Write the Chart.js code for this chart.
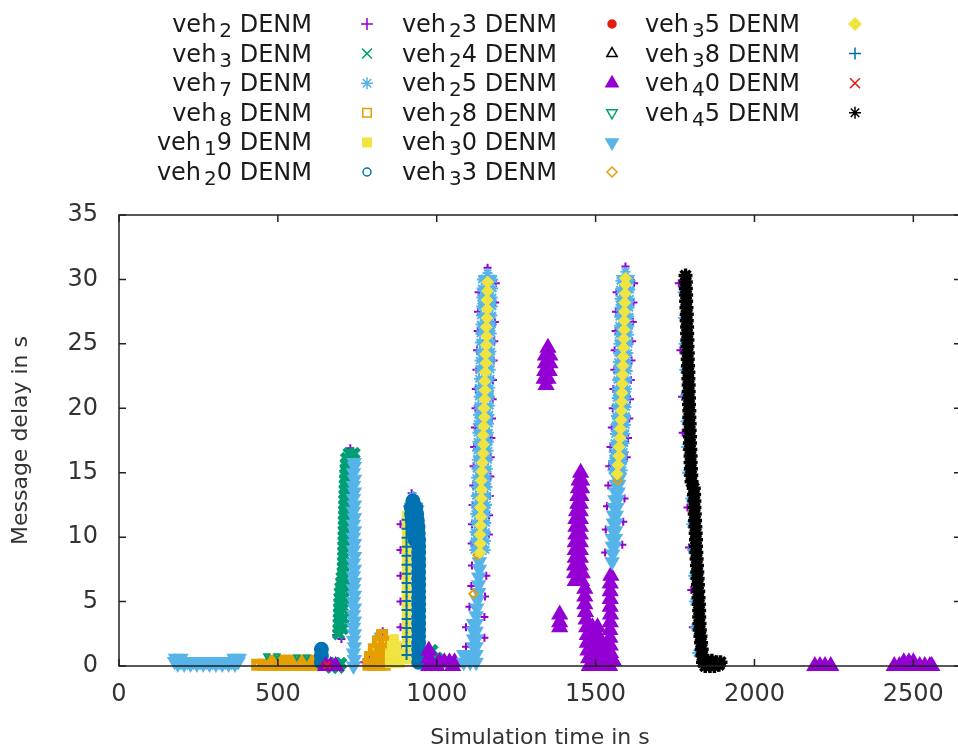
<!DOCTYPE html>
<html>
<head>
<meta charset="utf-8">
<title>DENM message delay</title>
<script src="https://cdn.jsdelivr.net/npm/chart.js@4.4.1/dist/chart.umd.min.js"></script>
<style>
  html, body { margin: 0; padding: 0; background: #fff; overflow: hidden; }
  canvas { display: block; }
</style>
</head>
<body>
<canvas id="delay" width="961" height="751"></canvas>
<script>
// [simulation time (s), message delay (s)] samples for every vehicle
const veh2 = [
  [1092,1.5],[1150,2.2],[1092,3.0],[1150,3.8],[1103,4.6],[1152,5.4],[1109,6.2],[1156,7.0],[1111,7.8],
  [1110,9.5],[1164,10.2],[1111,11.0],[1165,11.7],[1113,12.5],[1167,13.2],[1115,14.0],[1169,14.7],
  [1116,15.5],[1170,16.2],[1118,17.0],[1172,17.7],[1120,18.5],[1174,19.2],[1122,20.0],[1176,20.7],
  [1123,21.5],[1177,22.2],[1125,23.0],[1179,23.7],[1127,24.5],[1181,25.2],[1129,26.0],[1183,26.7],
  [1130,27.5],[1184,28.2],[1132,29.0],[1186,29.7],[1160,30.9],
  [1530,8.8],[1584,9.4],[1532,10.6],[1587,11.2],[1536,12.4],[1591,13.0],[1540,14.0],
  [1543,15.5],[1598,16.2],[1547,17.0],[1602,17.7],[1551,18.5],[1606,19.2],[1554,20.0],[1608,20.7],
  [1556,21.5],[1611,22.2],[1559,23.0],[1613,23.7],[1560,24.5],[1615,25.2],[1563,26.0],[1617,26.7],
  [1564,27.5],[1619,28.2],[1566,29.0],[1621,29.7],[1594,31.0],
  [1762,29.7],[1767,24.5],[1772,20.9],[1774,18.1],[1789,12.3],[1794,9.2],[1801,5.9],[1806,3.0],
  [684,2.4],[700,2.1],[728,16.9],[921,13.4],[886,11],[886,9],[886,7],[886,5],[886,3],[886,1.5],
  [789,0.6],[830,2.7],[770,0.3]
];
const veh3 = [
  [724,16.5],[740,16.5],[716,16.1],[715,15.7],[714,15.3],[713,14.9],[712,14.5],[712,14.1],[711,13.7],
  [711,13.3],[710,12.9],[710,12.5],[710,12.1],[709,11.7],[709,11.3],[709,10.9],[708,10.5],[708,10.1],
  [708,9.7],[707,9.3],[707,8.9],[707,8.5],[706,8.1],[706,7.7],[705,7.3],[702,6.9],[700,6.5],[698,6.1],
  [696,5.7],[695,5.3],[694,4.9],[694,4.5],[693,4.1],[693,3.7],[692,3.3],[692,2.9],[691,2.5],
  [710,6.9],[709,6.1],[708,5.3],[707,4.5],[706,3.7],[704,2.9],
  [662,0.2],[680,0.2],[698,0.2],[670,-0.1],[690,-0.1],
  [985,1.2],[980,0.6],[1000,0.6],[995,0.1]
];
const veh7 = [
  [1118,9.0],[1154,9.0],[1119,9.7],[1155,9.7],[1119,10.4],[1155,10.4],[1120,11.1],[1156,11.1],
  [1121,11.8],[1157,11.8],[1122,12.5],[1158,12.5],[1123,13.2],[1159,13.2],[1124,13.9],[1160,13.9],
  [1124,14.6],[1160,14.6],[1125,15.3],[1161,15.3],[1126,16.0],[1162,16.0],[1127,16.7],[1163,16.7],
  [1128,17.4],[1164,17.4],[1128,18.1],[1164,18.1],[1129,18.8],[1165,18.8],[1130,19.5],[1166,19.5],
  [1131,20.2],[1167,20.2],[1132,20.9],[1168,20.9],[1132,21.6],[1168,21.6],[1133,22.3],[1169,22.3],
  [1134,23.0],[1170,23.0],[1135,23.7],[1171,23.7],[1136,24.4],[1172,24.4],[1136,25.1],[1172,25.1],
  [1137,25.8],[1173,25.8],[1138,26.5],[1174,26.5],[1139,27.2],[1175,27.2],[1140,27.9],[1176,27.9],
  [1140,28.6],[1176,28.6],[1141,29.3],[1177,29.3],[1142,30.0],[1178,30.0],[1160,30.5],
  [1553,15.2],[1585,15.2],[1555,15.9],[1587,15.9],[1557,16.6],[1589,16.6],[1559,17.3],[1591,17.3],
  [1561,18.0],[1593,18.0],[1563,18.7],[1595,18.7],[1564,19.4],[1596,19.4],[1565,20.1],[1597,20.1],
  [1566,20.8],[1598,20.8],[1567,21.5],[1599,21.5],[1568,22.2],[1600,22.2],[1569,22.9],[1601,22.9],
  [1570,23.6],[1602,23.6],[1571,24.3],[1603,24.3],[1572,25.0],[1604,25.0],[1573,25.7],[1605,25.7],
  [1574,26.4],[1606,26.4],[1574,27.1],[1606,27.1],[1575,27.8],[1607,27.8],[1576,28.5],[1608,28.5],
  [1577,29.2],[1609,29.2],[1578,29.9],[1610,29.9],[1594,30.6],
  [925,13.2],[910,12.4],[945,12.4],[815,2.3],
  [1774,29],[1776,27],[1777,25],[1779,23],[1781,21],[1783,19],[1785,17],[1788,15],
  [1798,13],[1801,11],[1804,9],[1807,7],[1810,5],[1814,3],[1820,1]
];
const veh8 = [
  [435,0.1],[453,0.1],[471,0.1],[489,0.1],[507,0.1],[525,0.1],[543,0.1],[561,0.1],[579,0.1],[597,0.1],[612,0.1],
  [480,0.4],[498,0.4],[516,0.4],[534,0.4],[552,0.4],[570,0.4],[588,0.4],[606,0.4],
  [785,0.1],[800,0.1],[818,0.1],[836,0.1],[790,0.7],[808,0.7],[826,0.7],[844,0.7],
  [802,1.3],[820,1.3],[838,1.3],[815,1.9],[833,1.9],[828,2.4]
];
const veh19 = [
  [852,0.2],[870,0.2],[884,0.2],[852,0.9],[870,0.9],[882,0.9],[858,1.6],[874,1.6],[866,2.1],
  [905,0.5],[905,1.2],[905,1.9],[905,2.6],[905,3.3],[905,4.0],[905,4.7],[905,5.4],[905,6.1],
  [905,6.8],[905,7.5],[905,8.2],[905,8.9],[905,9.6],[905,10.3],[905,11.0],[905,11.7]
];
const veh20 = [
  [637,0.3],[637,0.8],[637,1.3],
  [925,12.8],[920,12.3],[934,12.3],[921,11.8],[937,11.8],[923,11.3],[939,11.3],[925,10.8],[941,10.8],
  [928,10.3],[942,10.3],[932,9.8],[943,9.8],[943,9.3],[943,8.8],[943,8.3],[943,7.8],[943,7.3],
  [943,6.8],[943,6.3],[943,5.8],[943,5.3],[943,4.8],[943,4.3],[943,3.8],[943,3.3],[943,2.8],
  [943,2.3],[943,1.8],[943,1.3],[943,0.8],[943,0.3]
];
const veh23 = [[645,0.0],[662,-0.1]];
const veh24 = [[1842,0.3],[1870,0.2]];
const veh25 = [
  [1350,24.7],[1342,24.1],[1356,24.1],[1342,23.5],[1356,23.5],[1340,22.9],[1354,22.9],
  [1338,22.3],[1350,22.3],[1344,21.8],
  [1387,4.0],[1387,3.4],[1387,3.0],
  [1453,15.0],[1448,14.4],[1456,14.4],[1446,13.8],[1456,13.8],[1444,13.2],[1454,13.2],
  [1444,12.6],[1452,12.6],[1440,12.0],[1452,12.0],[1438,11.4],[1452,11.4],[1438,10.8],[1452,10.8],
  [1438,10.2],[1452,10.2],[1436,9.6],[1452,9.6],[1436,9.0],[1452,9.0],[1436,8.4],[1452,8.4],
  [1434,7.8],[1452,7.8],[1434,7.2],[1450,7.2],[1458,7.2],[1436,6.6],[1456,6.6],
  [1466,6.0],[1466,5.4],[1466,4.8],[1468,4.2],[1470,3.6],
  [1472,3.0],[1490,3.0],[1506,3.0],[1474,2.4],[1490,2.4],[1506,2.4],
  [1474,1.8],[1490,1.8],[1506,1.8],[1520,1.8],[1476,1.2],[1492,1.2],[1508,1.2],[1524,1.2],
  [1478,0.6],[1494,0.6],[1510,0.6],[1526,0.6],[1542,0.6],
  [1480,0.0],[1496,0.0],[1512,0.0],[1528,0.0],[1544,0.0],
  [1548,7.0],[1546,6.4],[1546,5.8],[1546,5.2],[1546,4.6],[1547,4.0],[1546,3.4],[1545,2.8],
  [1545,2.2],[1546,1.6],[1547,1.0],[1556,0.4],
  [975,1.2],[975,0.6],[975,0.0],[1000,0.0],[1050,0.0],[1008,0.3],[1024,0.3],[1040,0.3],[1056,0.3],
  [650,0.0],[666,0.0],[682,0.0],
  [2190,0.0],[2206,0.0],[2222,0.0],[2240,0.0],
  [2440,0.0],[2456,0.0],[2472,0.0],[2488,0.0],[2504,0.0],[2520,0.0],[2536,0.0],[2552,0.0],[2558,0.0],
  [2470,0.3],[2486,0.3],[2500,0.3]
];
const veh28 = [[465,0.8],[497,0.8],[560,0.7],[591,0.7]];
const veh30 = [
  [175,0.35],[195,0.35],[215,0.35],[235,0.35],[255,0.35],[275,0.35],[295,0.35],[315,0.35],
  [335,0.35],[355,0.35],[375,0.35],
  [185,0.15],[205,0.15],[225,0.15],[245,0.15],[265,0.15],[285,0.15],[305,0.15],[325,0.15],
  [345,0.15],[365,0.15],
  [178,0.6],[195,0.6],[362,0.6],[378,0.6],
  [738,0.0],[741,0.5],[738,1.0],[741,1.5],[738,2.0],[741,2.5],[738,3.0],[741,3.5],[738,4.0],
  [741,4.5],[738,5.0],[741,5.5],[738,6.0],[741,6.5],[738,7.0],[741,7.5],[738,8.0],[741,8.5],
  [738,9.0],[741,9.5],[738,10.0],[741,10.5],[738,11.0],[741,11.5],[738,12.0],[741,12.5],
  [738,13.0],[741,13.5],[738,14.0],[741,14.5],[738,15.0],[741,15.5],[740,15.8],
  [1085,0.3],[1105,0.3],[1124,0.3],[1085,0.9],[1105,0.9],[1124,0.9],
  [1116,1.5],[1124,1.5],[1116,2.1],[1124,2.1],[1116,2.7],[1124,2.7],[1116,3.3],[1124,3.3],
  [1124,3.9],[1126,4.5],[1128,5.1],[1132,5.7],[1132,6.3],[1132,6.9],[1134,7.5],[1134,8.1],
  [1130,9.0],[1142,9.0],[1131,10.0],[1143,10.0],[1132,11.0],[1144,11.0],[1133,12.0],[1145,12.0],
  [1134,13.0],[1146,13.0],[1135,14.0],[1147,14.0],[1136,15.0],[1148,15.0],[1138,16.0],[1150,16.0],
  [1140,17.0],[1152,17.0],[1141,18.0],[1153,18.0],[1143,19.0],[1155,19.0],[1143,20.0],[1155,20.0],
  [1145,21.0],[1157,21.0],[1145,22.0],[1157,22.0],[1147,23.0],[1159,23.0],[1148,24.0],[1160,24.0],
  [1150,25.0],[1162,25.0],[1151,26.0],[1163,26.0],[1152,27.0],[1164,27.0],[1152,28.0],[1164,28.0],
  [1153,29.0],[1165,29.0],[1154,30.0],[1166,30.0],
  [1552,8.1],[1554,8.7],[1553,9.3],[1560,9.3],[1553,9.9],[1562,9.9],[1555,10.5],[1563,10.5],
  [1556,11.1],[1564,11.1],[1557,11.7],[1565,11.7],[1559,12.3],[1567,12.3],[1561,12.9],[1569,12.9],
  [1563,13.5],[1571,13.5],[1565,14.1],[1573,14.1],[1567,14.6],[1575,14.6],
  [1564,15.5],[1576,15.5],[1566,16.0],[1578,16.0],[1568,17.0],[1580,17.0],[1571,18.0],[1583,18.0],
  [1574,19.0],[1586,19.0],[1575,20.0],[1587,20.0],[1577,21.0],[1589,21.0],[1578,22.0],[1590,22.0],
  [1580,23.0],[1592,23.0],[1581,24.0],[1593,24.0],[1582,25.0],[1594,25.0],[1584,26.0],[1596,26.0],
  [1585,27.0],[1597,27.0],[1586,28.0],[1598,28.0],[1587,29.0],[1599,29.0],[1588,30.0],[1600,30.0]
];
const veh33 = [[1115,5.6],[1128,8.6],[1570,14.4]];
const veh35 = [
  [1136,8.8],[1137,9.5],[1136,10.2],[1138,10.9],[1139,11.6],[1138,12.3],[1140,13.0],[1141,13.7],
  [1140,14.4],[1142,15.1],[1144,15.8],[1146,16.5],[1147,17.2],[1146,17.9],[1148,18.6],[1150,19.3],
  [1149,20.0],[1151,20.7],[1152,21.4],[1151,22.1],[1153,22.8],[1155,23.5],[1154,24.2],[1156,24.9],
  [1157,25.6],[1156,26.3],[1158,27.0],[1159,27.7],[1158,28.4],[1160,29.1],[1160,29.8],
  [1568,14.9],[1571,15.6],[1573,16.3],[1574,17.0],[1577,17.7],[1578,18.4],[1580,19.1],[1581,19.8],
  [1582,20.5],[1583,21.2],[1584,21.9],[1585,22.6],[1586,23.3],[1587,24.0],[1588,24.7],[1589,25.4],
  [1590,26.1],[1590,26.8],[1591,27.5],[1592,28.2],[1593,28.9],[1594,29.6],[1594,30.1]
];
const veh38 = [
  [905,0.85],[905,1.55],[905,2.25],[905,2.95],[905,3.65],[905,4.35],[905,5.05],[905,5.75],
  [905,6.45],[905,7.15],[905,7.85],[905,8.55],[905,9.25],[905,9.95],[905,10.65],[905,11.35]
];
const veh40 = [[655,0.1]];
const veh45 = [
  [1783,30.3],[1784,29.8],[1784,29.3],[1785,28.8],[1785,28.3],[1786,27.8],[1787,27.3],[1787,26.8],
  [1788,26.3],[1788,25.8],[1789,25.3],[1789,24.8],[1790,24.3],[1790,23.8],[1791,23.3],[1792,22.8],
  [1792,22.3],[1793,21.8],[1793,21.3],[1794,20.8],[1794,20.3],[1795,19.8],[1795,19.3],[1796,18.8],
  [1796,18.3],[1797,17.8],[1797,17.3],[1798,16.8],[1799,16.3],[1799,15.8],[1800,15.3],[1801,14.8],
  [1802,14.3],[1809,13.8],[1810,13.3],[1811,12.8],[1811,12.3],[1812,11.8],[1813,11.3],[1814,10.8],
  [1815,10.3],[1816,9.8],[1816,9.3],[1817,8.8],[1818,8.3],[1819,7.8],[1820,7.3],[1821,6.8],
  [1822,6.3],[1823,5.8],[1824,5.3],[1825,4.8],[1826,4.3],[1826,3.8],[1827,3.3],[1828,2.8],
  [1830,2.3],[1832,1.8],[1834,1.3],[1836,0.8],[1838,0.3],
  [1852,0.4],[1866,0.4],[1880,0.3],[1893,0.3],[1845,0.0],[1860,0.0],[1874,0.0],[1888,0.1]
];

const series = [veh2, veh3, veh7, veh8, veh19, veh20, veh23, veh24,
                veh25, veh28, veh30, veh33, veh35, veh38, veh40, veh45];
const seriesLabels = [
  'veh_2 DENM', 'veh_3 DENM', 'veh_7 DENM', 'veh_8 DENM', 'veh_19 DENM', 'veh_20 DENM',
  'veh_23 DENM', 'veh_24 DENM', 'veh_25 DENM', 'veh_28 DENM', 'veh_30 DENM', 'veh_33 DENM',
  'veh_35 DENM', 'veh_38 DENM', 'veh_40 DENM', 'veh_45 DENM'
];
const xTicks = [0, 500, 1000, 1500, 2000, 2500];
const yTicks = [0, 5, 10, 15, 20, 25, 30, 35];

// gnuplot-like palette and point types
const PURPLE = '#9400d3', GREEN = '#009e73', SKY = '#56b4e9', ORANGE = '#e69f00',
      YELLOW = '#f0e442', BLUE = '#0072b2', RED = '#e51e10', BLACK = '#000000';
const NONE = 'rgba(0,0,0,0)';
const markers = [
  { style: 'cross',    color: PURPLE, fill: false, r: 4, bw: 2,   keyR: 6 },
  { style: 'crossRot', color: GREEN,  fill: false, r: 7, bw: 5,   keyR: 7 },
  { style: 'star',     color: SKY,    fill: false, r: 5, bw: 2,   keyR: 6 },
  { style: 'rect',     color: ORANGE, fill: false, r: 5, bw: 5,   keyR: 6 },
  { style: 'rect',     color: YELLOW, fill: true,  r: 6, bw: 1,   keyR: 6 },
  { style: 'circle',   color: BLUE,   fill: false, r: 4, bw: 7,   keyR: 4 },
  { style: 'circle',   color: RED,    fill: true,  r: 4, bw: 1,   keyR: 4 },
  { style: 'triangle', color: BLACK,  fill: false, r: 6, bw: 1.5, keyR: 6 },
  { style: 'triangle', color: PURPLE, fill: true,  r: 7, bw: 3,   keyR: 7 },
  { style: 'triangle', color: GREEN,  fill: false, r: 3, bw: 2,   keyR: 6, rot: 180 },
  { style: 'triangle', color: SKY,    fill: true,  r: 6, bw: 3,   keyR: 7, rot: 180 },
  { style: 'rectRot',  color: ORANGE, fill: false, r: 4, bw: 2,   keyR: 5 },
  { style: 'rectRot',  color: YELLOW, fill: true,  r: 6, bw: 1,   keyR: 6 },
  { style: 'cross',    color: BLUE,   fill: false, r: 5, bw: 2,   keyR: 6 },
  { style: 'crossRot', color: RED,    fill: false, r: 5, bw: 2,   keyR: 7 },
  { style: 'star',     color: BLACK,  fill: false, r: 7, bw: 3.5, keyR: 6 }
];

const FONT = "'DejaVu Sans', sans-serif";
const TEXT = '#333';
const KEY_FONT = '24px ' + FONT;
const SUB_FONT = '20px ' + FONT;
const KEY_SUB_GAP = 3;
const KEY_TEXT_RIGHT = [312, 557, 800];
const KEY_MARK_X = [367, 612, 855];
const KEY_BASELINE = 32, KEY_ROW = 29.6, KEY_PER_COL = 6;

Chart.defaults.font.family = FONT;
Chart.defaults.color = TEXT;

// later series are plotted over earlier ones (Chart.js puts the lowest order on top)
const datasets = series.map((pts, i) => {
  const m = markers[i];
  return {
    label: seriesLabels[i],
    data: pts.map(([x, y]) => ({ x, y })),
    order: series.length - 1 - i,
    showLine: false,
    clip: false,
    pointStyle: m.style,
    pointRotation: m.rot || 0,
    pointRadius: m.r,
    pointHoverRadius: m.r,
    pointBorderWidth: m.bw,
    pointBorderColor: m.color,
    pointBackgroundColor: m.fill ? m.color : NONE
  };
});

// gnuplot enhanced-text style: "veh_19" puts only the "1" in subscript
function drawKeyText(ctx, text, right, baseline) {
  const m = text.match(/^([^_]*)_(.)(.*)$/);
  const parts = m
    ? [{ t: m[1], sub: false, gap: KEY_SUB_GAP }, { t: m[2], sub: true, gap: 0 }, { t: m[3], sub: false, gap: 0 }]
    : [{ t: text, sub: false, gap: 0 }];
  const widths = parts.map(p => {
    ctx.font = p.sub ? SUB_FONT : KEY_FONT;
    return ctx.measureText(p.t).width + p.gap;
  });
  let x = right - widths.reduce((a, b) => a + b, 0);
  parts.forEach((p, i) => {
    ctx.font = p.sub ? SUB_FONT : KEY_FONT;
    ctx.fillText(p.t, x, baseline + (p.sub ? 5 : 0));
    x += widths[i];
  });
}

const keyPlugin = {
  id: 'key',
  afterDraw(chart) {
    const ctx = chart.ctx;
    ctx.save();
    ctx.textBaseline = 'alphabetic';
    ctx.textAlign = 'left';
    seriesLabels.forEach((label, i) => {
      const col = Math.floor(i / KEY_PER_COL);
      const base = KEY_BASELINE + (i % KEY_PER_COL) * KEY_ROW;
      ctx.fillStyle = '#1a1a1a';
      drawKeyText(ctx, label, KEY_TEXT_RIGHT[col], base);
      const m = markers[i];
      ctx.strokeStyle = m.color;
      ctx.fillStyle = m.fill ? m.color : NONE;
      ctx.lineWidth = 1.5;
      Chart.helpers.drawPoint(ctx, {
        pointStyle: m.style, rotation: m.rot || 0, radius: m.keyR, borderWidth: 1.5
      }, KEY_MARK_X[col], base - 8);
    });
    ctx.restore();
  }
};

// border with inward ticks on all four sides, drawn over the points
const framePlugin = {
  id: 'frame',
  afterDatasetsDraw(chart) {
    const { ctx, chartArea: a, scales: { x, y } } = chart;
    ctx.save();
    ctx.strokeStyle = '#222';
    ctx.lineWidth = 1.5;
    ctx.strokeRect(a.left, a.top, a.right - a.left, a.bottom - a.top);
    ctx.beginPath();
    xTicks.forEach(v => {
      const px = x.getPixelForValue(v);
      ctx.moveTo(px, a.bottom); ctx.lineTo(px, a.bottom - 7);
      ctx.moveTo(px, a.top); ctx.lineTo(px, a.top + 7);
    });
    yTicks.forEach(v => {
      const py = y.getPixelForValue(v);
      ctx.moveTo(a.left, py); ctx.lineTo(a.left + 7, py);
      ctx.moveTo(a.right, py); ctx.lineTo(a.right - 7, py);
    });
    ctx.stroke();
    ctx.restore();
  }
};

new Chart(document.getElementById('delay'), {
  type: 'scatter',
  data: { datasets },
  options: {
    responsive: false,
    animation: false,
    events: [],
    layout: { autoPadding: false, padding: { top: 215, left: 0, right: 0, bottom: 0 } },
    plugins: { legend: { display: false }, tooltip: { enabled: false } },
    scales: {
      x: {
        type: 'linear', min: 0, max: 2650,
        afterBuildTicks: s => { s.ticks = xTicks.map(v => ({ value: v })); },
        afterFit: s => { s.height = 85; s.paddingLeft = 0; s.paddingRight = 0; },
        grid: { display: false, drawTicks: false },
        border: { display: false },
        ticks: { font: { size: 24 }, color: TEXT, padding: 14, maxRotation: 0,
                 callback: v => String(v) },
        title: { display: true, text: 'Simulation time in s', color: TEXT,
                 font: { size: 22, lineHeight: 1 }, padding: { top: 0, bottom: 2 } }
      },
      y: {
        type: 'linear', min: 0, max: 35,
        afterBuildTicks: s => { s.ticks = yTicks.map(v => ({ value: v })); },
        afterFit: s => { s.width = 119; s.paddingTop = 0; s.paddingBottom = 0; },
        grid: { display: false, drawTicks: false },
        border: { display: false },
        ticks: { font: { size: 24 }, color: TEXT, padding: 21, callback: v => String(v) },
        title: { display: true, text: 'Message delay in s', color: TEXT,
                 font: { size: 22, lineHeight: 1 }, padding: { top: 10, bottom: 0 } }
      }
    }
  },
  plugins: [framePlugin, keyPlugin]
});
</script>
</body>
</html>
